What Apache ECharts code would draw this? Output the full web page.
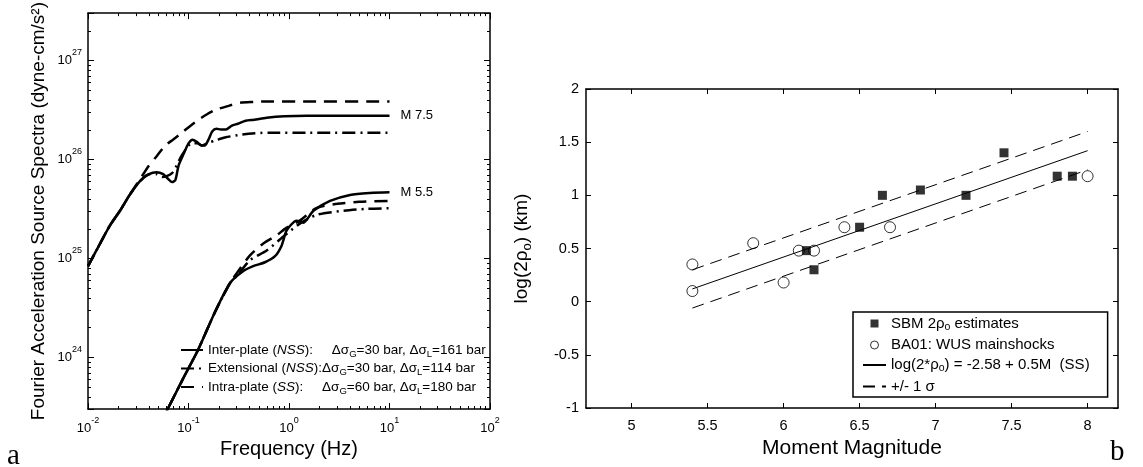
<!DOCTYPE html>
<html><head><meta charset="utf-8">
<script src="https://cdn.jsdelivr.net/npm/echarts@6/dist/echarts.min.js"></script>
<style>html,body{margin:0;padding:0;background:#fff}#c{width:1143px;height:467px}</style>
</head><body><div id="c"></div>
<script>
// ---------------- Panel a : source spectra ----------------
const xRangeA = [0.01, 100];
const yRangeA = [3e23, 3e27];
const xMajorA = [0.01, 0.1, 1, 10, 100];
const yMajorA = [1e24, 1e25, 1e26, 1e27];
const xMinorA = [0.02,0.03,0.04,0.05,0.06,0.07,0.08,0.09,0.2,0.3,0.4,0.5,0.6,0.7,0.8,0.9,2,3,4,5,6,7,8,9,20,30,40,50,60,70,80,90];
const yMinorA = [4e23,5e23,6e23,7e23,8e23,9e23,2e24,3e24,4e24,5e24,6e24,7e24,8e24,9e24,2e25,3e25,4e25,5e25,6e25,7e25,8e25,9e25,2e26,3e26,4e26,5e26,6e26,7e26,8e26,9e26,2e27];

// Inter-plate (NSS), solid
const interM75Freq = [0.01,0.0132,0.0165,0.0208,0.026,0.0329,0.0405,0.048,0.056,0.063,0.0686,0.074,0.0798,0.09,0.1,0.11,0.12,0.135,0.145,0.158,0.172,0.19,0.21,0.235,0.27,0.31,0.37,0.45,0.6,0.9,1.5,3,10];
const interM75Amp  = [8.32e24,1.41e25,2.14e25,3.02e25,4.37e25,6.03e25,7.08e25,7.41e25,7.08e25,6.31e25,5.89e25,6.17e25,8.71e25,1.15e26,1.45e26,1.58e26,1.51e26,1.38e26,1.38e26,1.58e26,1.91e26,2.04e26,2.00e26,2.00e26,2.19e26,2.29e26,2.45e26,2.51e26,2.63e26,2.72e26,2.75e26,2.75e26,2.75e26];
const interM55Freq = [0.05,0.063,0.09,0.125,0.184,0.259,0.338,0.44,0.577,0.726,0.846,0.948,1.19,1.39,1.75,2.56,4.05,6.4,10];
const interM55Amp  = [1.95e23,3.09e23,6.31e23,1.20e24,2.88e24,5.62e24,7.24e24,8.32e24,9.12e24,1.05e25,1.35e25,1.91e25,2.40e25,2.29e25,3.02e25,3.80e25,4.37e25,4.57e25,4.64e25];
// Extensional (NSS), dash-dot
const extM75Freq = [0.01,0.0132,0.0165,0.0208,0.026,0.0329,0.0405,0.048,0.0545,0.0686,0.086,0.108,0.122,0.136,0.16,0.185,0.23,0.34,0.63,1.5,10];
const extM75Amp  = [8.32e24,1.41e25,2.14e25,3.02e25,4.37e25,6.03e25,7.08e25,7.08e25,6.61e25,7.24e25,1.10e26,1.45e26,1.45e26,1.38e26,1.48e26,1.55e26,1.66e26,1.78e26,1.86e26,1.86e26,1.86e26];
const extM55Freq = [0.05,0.063,0.09,0.125,0.184,0.259,0.302,0.409,0.6,0.88,1.28,1.89,3.5,6,10];
const extM55Amp  = [1.95e23,3.09e23,6.31e23,1.20e24,2.88e24,5.62e24,6.61e24,9.55e24,1.20e25,1.66e25,2.24e25,2.75e25,3.02e25,3.16e25,3.20e25];
// Intra-plate (SS), dashed
const intraM75Freq = [0.01,0.0132,0.0165,0.0208,0.026,0.033,0.040,0.048,0.0588,0.07,0.086,0.105,0.126,0.15,0.185,0.25,0.325,0.45,0.6,1.5,10];
const intraM75Amp  = [8.32e24,1.41e25,2.14e25,3.02e25,4.37e25,6.31e25,8.51e25,1.07e26,1.38e26,1.58e26,1.86e26,2.19e26,2.51e26,2.82e26,3.16e26,3.47e26,3.72e26,3.80e26,3.85e26,3.85e26,3.85e26];
const intraM55Freq = [0.05,0.063,0.09,0.125,0.184,0.259,0.302,0.409,0.555,0.75,0.948,1.28,1.89,3,5,10];
const intraM55Amp  = [1.95e23,3.09e23,6.31e23,1.20e24,2.88e24,5.62e24,7.08e24,1.07e25,1.41e25,1.70e25,2.04e25,2.40e25,3.24e25,3.55e25,3.72e25,3.80e25];

// ---------------- Panel b : log(2 rho_o) vs magnitude ----------------
const xRangeB = [4.7, 8.2];
const yRangeB = [-1, 2];
const xTicksB = [5, 5.5, 6, 6.5, 7, 7.5, 8];
const sbmM   = [6.15, 6.2, 6.5, 6.65, 6.9, 7.2, 7.45, 7.8, 7.9];
const sbmLog = [0.48, 0.30, 0.70, 1.00, 1.05, 1.00, 1.40, 1.18, 1.18];
const baM    = [5.4, 5.4, 5.8, 6.0, 6.1, 6.2, 6.4, 6.7, 8.0];
const baLog  = [0.35, 0.10, 0.55, 0.18, 0.48, 0.48, 0.70, 0.70, 1.18];
const fitM = [5.4, 8.0];
const fitLog = [0.12, 1.42];
const upperLog = [0.30, 1.60];
const lowerLog = [-0.06, 1.24];

const FONT = '"Liberation Sans", Arial, Helvetica, sans-serif';
const zip = (a, b) => a.map((v, i) => [v, b[i]]);

const supRich = {
  b: { fontSize: 13, lineHeight: 24, fontFamily: FONT, color: '#000' },
  e: { fontSize: 9, lineHeight: 8, verticalAlign: 'top', fontFamily: FONT, color: '#000' }
};
function powLabel(v) {
  const l = Math.log10(v), e = Math.round(l);
  if (Math.abs(l - e) > 1e-6) return '';
  return '{b|10}{e|' + e + '}';
}

const leftLegendText = {
  'Inter-plate': '{r|Inter-plate (}{i|NSS}{r|):     Δσ}{s|G}{r|=30 bar, Δσ}{s|L}{r|=161 bar}',
  'Extensional': '{r|Extensional (}{i|NSS}{r|):Δσ}{s|G}{r|=30 bar, Δσ}{s|L}{r|=114 bar}',
  'Intra-plate': '{r|Intra-plate (}{i|SS}{r|):     Δσ}{s|G}{r|=60 bar, Δσ}{s|L}{r|=180 bar}'
};
const rightLegendText = {
  'SBM': '{r|SBM 2ρ}{s|o}{r| estimates}',
  'BA01': '{r|BA01: WUS mainshocks}',
  'fit': '{r|log(2*ρ}{s|o}{r|) = -2.58 + 0.5M  (SS)}',
  'sigma': '{r|+/- 1 σ}'
};

const axLine = { show: true, onZero: false, lineStyle: { color: '#000', width: 1.5 } };
const tickIn = (len) => ({ show: true, inside: true, length: len, lineStyle: { color: '#000', width: 1 } });
const noSym = { color: 'rgba(0,0,0,0)', opacity: 0, borderWidth: 0 };

const DASH = [13, 8];
const DASHDOT = [13, 5, 2, 5];
function specSeries(name, f, a, type, extra) {
  return Object.assign({
    name, type: 'line', xAxisIndex: 0, yAxisIndex: 0, data: zip(f, a),
    symbol: 'none', smooth: 0.25, clip: true, animation: false,
    itemStyle: { color: '#000' },
    lineStyle: { color: '#000', width: 2.5, type: type, cap: 'butt' }
  }, extra || {});
}
const endLbl = (t) => ({ endLabel: { show: true, formatter: t, distance: 11, fontSize: 13, fontFamily: FONT, color: '#000' } });

function minorTickSeries(isX) {
  const data = isX ? xMinorA.map(v => [v, yRangeA[0]]) : yMinorA.map(v => [xRangeA[0], v]);
  return {
    type: 'custom', xAxisIndex: 0, yAxisIndex: 0, silent: true, clip: false, animation: false, z: 5,
    data,
    renderItem: (params, api) => {
      const cs = params.coordSys;
      const p = api.coord([api.value(0), api.value(1)]);
      const st = { stroke: '#000', lineWidth: 1 };
      if (isX) {
        const x = Math.round(p[0]) + 0.5;
        return { type: 'group', children: [
          { type: 'line', shape: { x1: x, y1: cs.y + cs.height, x2: x, y2: cs.y + cs.height - 3 }, style: st },
          { type: 'line', shape: { x1: x, y1: cs.y, x2: x, y2: cs.y + 3 }, style: st }
        ] };
      }
      const y = Math.round(p[1]) + 0.5;
      return { type: 'group', children: [
        { type: 'line', shape: { x1: cs.x, y1: y, x2: cs.x + 3, y2: y }, style: st },
        { type: 'line', shape: { x1: cs.x + cs.width, y1: y, x2: cs.x + cs.width - 3, y2: y }, style: st }
      ] };
    }
  };
}

const chart = echarts.init(document.getElementById('c'), null, { renderer: 'canvas' });
chart.setOption({
  animation: false,
  backgroundColor: '#fff',
  textStyle: { fontFamily: FONT, color: '#000' },
  grid: [
    { left: 88, right: 653, top: 5, bottom: 58 },
    { left: 586, right: 25, top: 89, bottom: 59 }
  ],
  xAxis: [
    { gridIndex: 0, type: 'log', logBase: 10, min: xRangeA[0], max: xRangeA[1], position: 'bottom',
      axisLine: axLine, axisTick: tickIn(6), splitLine: { show: false },
      axisLabel: { formatter: powLabel, rich: supRich, margin: 7, hideOverlap: false },
      name: 'Frequency (Hz)', nameLocation: 'middle', nameGap: 30,
      nameTextStyle: { fontSize: 20, fontFamily: FONT, color: '#000' } },
    { gridIndex: 0, type: 'log', logBase: 10, min: xRangeA[0], max: xRangeA[1], position: 'top',
      axisLine: axLine, axisTick: tickIn(6), axisLabel: { show: false }, splitLine: { show: false } },
    { gridIndex: 1, type: 'value', min: xRangeB[0], max: xRangeB[1], position: 'bottom', splitNumber: 7,
      axisLine: axLine, axisTick: Object.assign(tickIn(5), { customValues: xTicksB }), splitLine: { show: false },
      axisLabel: { customValues: xTicksB, fontSize: 14.5, fontFamily: FONT, color: '#000', margin: 10 },
      name: 'Moment Magnitude', nameLocation: 'middle', nameGap: 26,
      nameTextStyle: { fontSize: 21, fontFamily: FONT, color: '#000' } },
    { gridIndex: 1, type: 'value', min: xRangeB[0], max: xRangeB[1], position: 'top', splitNumber: 7,
      axisLine: axLine, axisTick: Object.assign(tickIn(5), { customValues: xTicksB }),
      axisLabel: { show: false }, splitLine: { show: false } }
  ],
  yAxis: [
    { gridIndex: 0, type: 'log', logBase: 10, min: yRangeA[0], max: yRangeA[1], position: 'left',
      axisLine: axLine, axisTick: tickIn(6), splitLine: { show: false },
      axisLabel: { formatter: powLabel, rich: supRich, margin: 6 },
      name: 'Fourier Acceleration Source Spectra (dyne-cm/s²)', nameLocation: 'middle', nameGap: 40,
      nameTextStyle: { fontSize: 19, fontFamily: FONT, color: '#000' } },
    { gridIndex: 0, type: 'log', logBase: 10, min: yRangeA[0], max: yRangeA[1], position: 'right',
      axisLine: axLine, axisTick: tickIn(6), axisLabel: { show: false }, splitLine: { show: false } },
    { gridIndex: 1, type: 'value', min: yRangeB[0], max: yRangeB[1], interval: 0.5, position: 'left',
      axisLine: axLine, axisTick: tickIn(5), splitLine: { show: false },
      axisLabel: { fontSize: 14.5, fontFamily: FONT, color: '#000', margin: 7 },
      name: '{r|log(2ρ}{s|o}{r|) (km)}', nameLocation: 'middle', nameGap: 52,
      nameTextStyle: { fontSize: 19, fontFamily: FONT, color: '#000',
        rich: { r: { fontSize: 19, lineHeight: 24, fontFamily: FONT, color: '#000' },
                s: { fontSize: 13, lineHeight: 12, verticalAlign: 'bottom', fontFamily: FONT, color: '#000' } } } },
    { gridIndex: 1, type: 'value', min: yRangeB[0], max: yRangeB[1], interval: 0.5, position: 'right',
      axisLine: axLine, axisTick: tickIn(5), axisLabel: { show: false }, splitLine: { show: false } }
  ],
  legend: [
    { orient: 'vertical', left: 180, top: 343, padding: 0, itemGap: 2.5, itemWidth: 22, itemHeight: 10,
      selectedMode: false, backgroundColor: 'transparent',
      data: [
        { name: 'Inter-plate', itemStyle: noSym },
        { name: 'Extensional', itemStyle: noSym },
        { name: 'Intra-plate', itemStyle: noSym }
      ],
      formatter: n => leftLegendText[n],
      textStyle: { fontSize: 13.5, fontFamily: FONT, color: '#000',
        rich: { r: { fontSize: 13.5, lineHeight: 18, fontFamily: FONT, color: '#000' },
                i: { fontSize: 13.5, lineHeight: 18, fontStyle: 'italic', fontFamily: FONT, color: '#000' },
                s: { fontSize: 9.5, lineHeight: 9, verticalAlign: 'bottom', fontFamily: FONT, color: '#000' } } } },
    { orient: 'vertical', left: 853, top: 312, padding: [4, 18, 3, 9], itemGap: 5, itemWidth: 23, itemHeight: 8,
      selectedMode: false, backgroundColor: '#fff', borderColor: '#000', borderWidth: 1.5,
      data: [
        { name: 'SBM', icon: 'path://M0,0L10,0L10,10L0,10Z', itemStyle: { color: '#000' } },
        { name: 'BA01', icon: 'circle', itemStyle: { color: 'rgba(0,0,0,0)', borderColor: '#000', borderWidth: 1 } },
        { name: 'fit', itemStyle: noSym }, { name: 'sigma', itemStyle: noSym }
      ],
      formatter: n => rightLegendText[n],
      textStyle: { fontSize: 15, fontFamily: FONT, color: '#000',
        rich: { r: { fontSize: 15, lineHeight: 18, fontFamily: FONT, color: '#000' },
                s: { fontSize: 10.5, lineHeight: 9, verticalAlign: 'bottom', fontFamily: FONT, color: '#000' } } } }
  ],
  series: [
    specSeries('Inter-plate', interM75Freq, interM75Amp, 'solid', endLbl('M 7.5')),
    specSeries('Extensional', extM75Freq, extM75Amp, DASHDOT),
    specSeries('Intra-plate', intraM75Freq, intraM75Amp, DASH),
    specSeries('Inter-plate', interM55Freq, interM55Amp, 'solid', endLbl('M 5.5')),
    specSeries('Extensional', extM55Freq, extM55Amp, DASHDOT),
    specSeries('Intra-plate', intraM55Freq, intraM55Amp, DASH),
    minorTickSeries(true),
    minorTickSeries(false),
    { name: 'fit', type: 'line', xAxisIndex: 2, yAxisIndex: 2, data: zip(fitM, fitLog), symbol: 'none',
      itemStyle: { color: '#000' }, lineStyle: { color: '#000', width: 1 } },
    { name: 'sigma', type: 'line', xAxisIndex: 2, yAxisIndex: 2, data: zip(fitM, upperLog), symbol: 'none',
      itemStyle: { color: '#000' }, lineStyle: { color: '#000', width: 1, type: [12, 7] } },
    { name: 'sigma', type: 'line', xAxisIndex: 2, yAxisIndex: 2, data: zip(fitM, lowerLog), symbol: 'none',
      itemStyle: { color: '#000' }, lineStyle: { color: '#000', width: 1, type: [12, 7] } },
    { name: 'BA01', type: 'scatter', xAxisIndex: 2, yAxisIndex: 2, data: zip(baM, baLog), symbol: 'circle', symbolSize: 11,
      itemStyle: { color: 'rgba(0,0,0,0)', borderColor: '#000', borderWidth: 1 }, z: 3 },
    { name: 'SBM', type: 'scatter', xAxisIndex: 2, yAxisIndex: 2, data: zip(sbmM, sbmLog), symbol: 'rect', symbolSize: 9,
      itemStyle: { color: '#000' }, z: 4 }
  ],
  graphic: [
    { type: 'text', x: 7, y: 456, style: { text: 'a', fontSize: 29, fontFamily: '"Liberation Serif", serif', fill: '#000', verticalAlign: 'middle' } },
    { type: 'text', x: 1110, y: 452, style: { text: 'b', fontSize: 29, fontFamily: '"Liberation Serif", serif', fill: '#000', verticalAlign: 'middle' } }
  ]
});
</script>
</body></html>
